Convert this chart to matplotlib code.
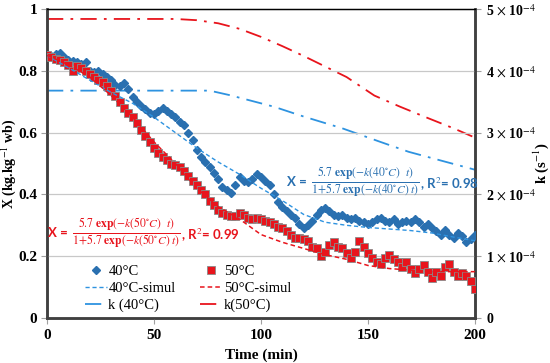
import matplotlib
matplotlib.use("Agg")
import matplotlib.pyplot as plt
import numpy as np

# ---------------- data ----------------
t_exp = list(range(0, 201, 2))
x40 = [0.850, 0.848, 0.855, 0.858, 0.845, 0.835, 0.832, 0.828, 0.822, 0.830,
       0.800, 0.795, 0.800, 0.790, 0.780, 0.770, 0.755, 0.750, 0.760, 0.740,
       0.715, 0.700, 0.685, 0.675, 0.665, 0.660, 0.670, 0.680, 0.670, 0.660,
       0.650, 0.635, 0.625, 0.600, 0.575, 0.545, 0.520, 0.505, 0.490, 0.470,
       0.450, 0.425, 0.415, 0.405, 0.430, 0.455, 0.445, 0.440, 0.450, 0.465,
       0.455, 0.445, 0.430, 0.400, 0.375, 0.360, 0.345, 0.335, 0.325, 0.305,
       0.290, 0.300, 0.315, 0.335, 0.350, 0.355, 0.345, 0.335, 0.330, 0.335,
       0.325, 0.320, 0.325, 0.315, 0.310, 0.305, 0.310, 0.320, 0.325, 0.315,
       0.310, 0.320, 0.305, 0.310, 0.315, 0.310, 0.320, 0.310, 0.295, 0.305,
       0.290, 0.280, 0.270, 0.285, 0.270, 0.260, 0.275, 0.265, 0.245, 0.255,
       0.270]
x50 = [0.850, 0.845, 0.840, 0.835, 0.830, 0.820, 0.800, 0.815, 0.810, 0.800,
       0.790, 0.780, 0.770, 0.765, 0.750, 0.735, 0.720, 0.700, 0.680, 0.665,
       0.650, 0.630, 0.610, 0.590, 0.570, 0.550, 0.535, 0.520, 0.510, 0.500,
       0.495, 0.490, 0.475, 0.460, 0.445, 0.430, 0.415, 0.400, 0.380, 0.365,
       0.350, 0.340, 0.335, 0.330, 0.330, 0.340, 0.335, 0.325, 0.320, 0.325,
       0.320, 0.315, 0.310, 0.305, 0.295, 0.290, 0.280, 0.270, 0.260, 0.260,
       0.255, 0.250, 0.230, 0.225, 0.200, 0.215, 0.235, 0.245, 0.230, 0.225,
       0.210, 0.195, 0.215, 0.250, 0.230, 0.210, 0.195, 0.180, 0.175, 0.195,
       0.205, 0.190, 0.180, 0.165, 0.180, 0.160, 0.145, 0.160, 0.170, 0.150,
       0.130, 0.150, 0.135, 0.165, 0.175, 0.150, 0.135, 0.145, 0.135, 0.120,
       0.095]

t_sim = [0, 10, 20, 30, 40, 50, 60, 70, 80, 90, 100, 110, 120, 130, 140,
         150, 160, 170, 180, 190, 200]
sim40 = [0.850, 0.810, 0.770, 0.730, 0.695, 0.650, 0.600, 0.550, 0.505, 0.465,
         0.420, 0.380, 0.335, 0.310, 0.300, 0.293, 0.288, 0.283, 0.275, 0.262,
         0.250]
sim50 = [0.850, 0.820, 0.780, 0.720, 0.650, 0.570, 0.500, 0.420, 0.360, 0.320,
         0.270, 0.245, 0.225, 0.205, 0.190, 0.170, 0.160, 0.155, 0.150, 0.150,
         0.150]

t_k40 = [0, 20, 40, 60, 76, 85, 95, 106, 120, 138, 155, 169, 185, 200]
k40 = [3.68, 3.68, 3.68, 3.68, 3.68, 3.61, 3.52, 3.42, 3.26, 3.07, 2.86, 2.69,
       2.54, 2.40]  # x 1e-4 s^-1
t_k50 = [0, 20, 40, 60, 70, 80, 90, 100, 110, 120, 130, 140, 153, 165, 177,
         190, 200]
k50 = [4.84, 4.84, 4.84, 4.84, 4.82, 4.77, 4.68, 4.55, 4.40, 4.24, 4.07, 3.90,
       3.60, 3.42, 3.25, 3.07, 2.92]  # x 1e-4 s^-1

xticks = [0, 50, 100, 150, 200]
yticks = [0, 0.2, 0.4, 0.6, 0.8, 1]
yticklabels = ["0", "0.2", "0.4", "0.6", "0.8", "1"]
kticks = [0, 1, 2, 3, 4, 5]
kticklabels = ["0"] + [r"%d $\times$ 10$^{-4}$" % v for v in kticks[1:]]

# ---------------- style ----------------
plt.rcParams["mathtext.fontset"] = "stix"
SERIF = "Liberation Serif"
SANS = "Lato"
BLUE_M = "#2A70B0"
BLUE_L = "#2E93E0"
RED = "#E8141C"

fig = plt.figure(figsize=(5.5, 3.63), dpi=100)
ax = fig.add_axes([0.0855, 0.124, 0.778, 0.851])
ax2 = ax.twinx()

h1, = ax.plot(t_exp, x40, linestyle="none", marker="D", markersize=4.4,
              color=BLUE_M, markeredgecolor=BLUE_M, label="40°C", zorder=3)
h2, = ax.plot(t_exp, x50, linestyle="none", marker="s", markersize=5.6,
              color=RED, markeredgecolor="#8a8a8a", markeredgewidth=0.6,
              label="50°C", zorder=3)
h3, = ax.plot(t_sim, sim40, linestyle=(0, (3, 2)), linewidth=1.0,
              color=BLUE_L, label="40°C-simul", zorder=4)
h4, = ax.plot(t_sim, sim50, linestyle=(0, (3, 2)), linewidth=1.1,
              color=RED, label="50°C-simul", zorder=4)
h5, = ax2.plot(t_k40, k40, linestyle=(0, (9, 4, 1.5, 4)), linewidth=1.3,
               color=BLUE_L, label="k (40°C)")
h6, = ax2.plot(t_k50, k50, linestyle=(0, (9, 4, 1.5, 4)), linewidth=1.3,
               color=RED, label="k(50°C)")

ax.set_xlim(0, 200)
ax.set_ylim(0, 1)
ax2.set_ylim(0, 5)
ax.set_xticks(xticks)
ax.set_xticklabels([str(v) for v in xticks])
ax.set_yticks(yticks)
ax.set_yticklabels(yticklabels)
ax2.set_yticks(kticks)
ax2.set_yticklabels(kticklabels)

for a in (ax, ax2):
    a.tick_params(direction="out", length=4, width=0.8, color="#a0a0a0")
ax.grid(axis="y", color="#c8c8c8", linewidth=0.9)
ax.set_axisbelow(True)

for lab in ax.get_xticklabels() + ax.get_yticklabels():
    lab.set_fontfamily(SERIF)
    lab.set_fontweight("bold")
    lab.set_fontsize(11)
for lab in ax2.get_yticklabels():
    lab.set_fontfamily(SERIF)
    lab.set_fontweight("bold")
    lab.set_fontsize(10)
ax.tick_params(axis="x", pad=4)
ax.tick_params(axis="y", pad=3)
ax2.tick_params(axis="y", pad=4)

for s in ("left", "bottom", "right"):
    ax.spines[s].set_color("#404040")
    ax.spines[s].set_linewidth(1.8)
    ax2.spines[s].set_color("#404040")
    ax2.spines[s].set_linewidth(1.8)
ax.spines["top"].set_linewidth(0.9)
ax2.spines["top"].set_linewidth(0.9)
ax.spines["top"].set_color("black")
ax2.spines["top"].set_color("black")

ax.set_xlabel("Time (min)", fontfamily=SERIF, fontweight="bold", fontsize=11)
ax.xaxis.set_label_coords(0.5, -0.098)
ax.set_ylabel("X (kg.kg$^{-1}$ wb)", fontfamily=SERIF, fontweight="bold",
              fontsize=10, va="center")
ax.yaxis.set_label_coords(-0.089, 0.5)
ax2.set_ylabel("k (s$^{-1}$)", fontfamily=SERIF, fontweight="bold",
               fontsize=10.5, va="center")
ax2.yaxis.set_label_coords(1.154, 0.5)

ax.set_zorder(ax2.get_zorder() + 1)
ax.patch.set_visible(False)

leg = ax.legend(handles=[h1, h3, h5, h2, h4, h6], ncol=2, loc="lower left",
                bbox_to_anchor=(0.089, 0.018), frameon=False, borderpad=0,
                borderaxespad=0,
                prop={"family": SERIF, "size": 10.5}, handlelength=1.5,
                handletextpad=0.1, columnspacing=1.7, labelspacing=0.25)


def equation(x, y, color, temp, r2):
    t1 = ax.text(x, y, "X =", transform=ax.transAxes, color=color,
                 fontfamily=SANS, fontweight="bold", fontsize=9.5,
                 va="center", ha="left")
    frac = (r"$\frac{5.7\ \mathbf{exp}(-k(%s^{\circ}C)\ \ t)}"
            r"{1\!+\!5.7\ \mathbf{exp}(-k(%s^{\circ}C)\ t)}$" % (temp, temp))
    t2 = ax.annotate(frac, xy=(1, 0.5), xycoords=t1, xytext=(3, 0),
                     textcoords="offset points", color=color, fontsize=12,
                     va="center", ha="left")
    ax.annotate(", R$^{2}$= %s" % r2, xy=(1, 0.5), xycoords=t2,
                xytext=(0, -1), textcoords="offset points", color=color,
                fontfamily=SANS, fontweight="bold", fontsize=9.5,
                va="center", ha="left")


equation(0.002, 0.275, RED, "50", "0.99")
equation(0.561, 0.44, BLUE_M, "40", "0.98")

fig.savefig("out.png", dpi=100)
